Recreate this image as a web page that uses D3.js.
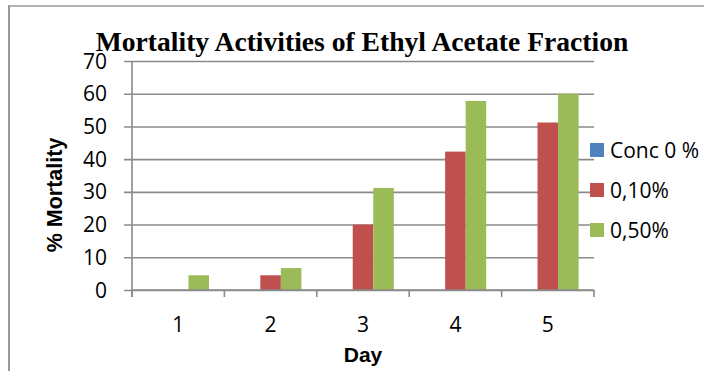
<!DOCTYPE html>
<html>
<head>
<meta charset="utf-8">
<script src="https://cdn.jsdelivr.net/npm/d3@7"></script>
<style>
  html, body { margin: 0; padding: 0; background: #fff; }
  svg { display: block; }
</style>
</head>
<body>
<svg id="chart" width="704" height="371"></svg>
<script>
// Mortality data per day and concentration
const days = ["1", "2", "3", "4", "5"];
const seriesNames = ["Conc 0 %", "0,10%", "0,50%"];
const conc0 = [0, 0, 0, 0, 0];
const conc010 = [0, 4.5, 20, 42.3, 51.2];
const conc050 = [4.5, 6.7, 31.2, 57.8, 60];
const yTicks = [0, 10, 20, 30, 40, 50, 60, 70];
const colors = ["#4F81BD", "#C0504D", "#9BBB59"];

const seriesValues = [conc0, conc010, conc050];

const svg = d3.select("#chart");
const gridColor = "#8a8a8a";
const tickFont = "'Open Sans', 'Liberation Sans', sans-serif";

// Outer frame (left and top edges)
svg.append("line").attr("x1", 9).attr("x2", 9).attr("y1", 5).attr("y2", 371)
  .attr("stroke", "#9a9a9a").attr("stroke-width", 2);
svg.append("line").attr("x1", 8).attr("x2", 704).attr("y1", 6).attr("y2", 6)
  .attr("stroke", "#9a9a9a").attr("stroke-width", 1.5);

const plot = { left: 132, right: 594, top: 61, bottom: 290 };

const x = d3.scaleBand().domain(days).range([plot.left, plot.right]).padding(0);
const y = d3.scaleLinear().domain([0, 70]).range([plot.bottom, plot.top]);

// Bars: gap width 150% of a bar, split on both sides
const barW = x.bandwidth() / (seriesNames.length + 1.5);
const xs = d3.scaleBand().domain(seriesNames)
  .range([0.75 * barW, 0.75 * barW + barW * seriesNames.length]).padding(0);

// Horizontal gridlines with outward tick marks
const gy = svg.append("g").attr("transform", `translate(${plot.right},0)`);
gy.call(d3.axisLeft(y).tickValues(yTicks).tickSize(plot.right - plot.left + 8).tickFormat(""));
gy.select(".domain").remove();
gy.selectAll(".tick line").attr("stroke", gridColor).attr("stroke-width", 1.6);

// Y tick labels
svg.append("g").selectAll("text").data(yTicks).join("text")
  .attr("x", 107).attr("y", d => y(d) + 7.5)
  .attr("text-anchor", "end")
  .attr("font-family", tickFont).attr("font-size", 21).attr("fill", "#000")
  .text(d => d);

// Vertical axis line
svg.append("line").attr("x1", plot.left).attr("x2", plot.left)
  .attr("y1", plot.top).attr("y2", plot.bottom + 7)
  .attr("stroke", gridColor).attr("stroke-width", 1.6);

// Bars
const groups = svg.append("g").selectAll("g").data(seriesNames).join("g")
  .attr("fill", (d, i) => colors[i]);
groups.selectAll("rect")
  .data((s, si) => days.map((d, di) => ({ day: d, series: s, value: seriesValues[si][di] })))
  .join("rect")
  .attr("x", d => x(d.day) + xs(d.series))
  .attr("width", xs.bandwidth())
  .attr("y", d => y(d.value))
  .attr("height", d => y(0) - y(d.value));

// X axis with tick marks at category boundaries
const xAxisG = svg.append("g");
xAxisG.append("line").attr("x1", plot.left).attr("x2", plot.right)
  .attr("y1", plot.bottom).attr("y2", plot.bottom)
  .attr("stroke", gridColor).attr("stroke-width", 1.6);
const bounds = days.map(d => x(d)).concat([plot.right]);
xAxisG.selectAll("line.tk").data(bounds).join("line").attr("class", "tk")
  .attr("x1", d => d).attr("x2", d => d)
  .attr("y1", plot.bottom).attr("y2", plot.bottom + 7)
  .attr("stroke", gridColor).attr("stroke-width", 1.6);
xAxisG.selectAll("text").data(days).join("text")
  .attr("x", d => x(d) + x.bandwidth() / 2).attr("y", 332)
  .attr("text-anchor", "middle")
  .attr("font-family", tickFont).attr("font-size", 21).attr("fill", "#000")
  .text(d => d);

// Axis titles
svg.append("text").attr("x", 363).attr("y", 362).attr("text-anchor", "middle")
  .attr("font-family", "'Liberation Sans', Arial, sans-serif").attr("font-weight", "bold")
  .attr("font-size", 21).attr("fill", "#000").text("Day");
svg.append("text").attr("transform", "translate(62,195) rotate(-90)")
  .attr("text-anchor", "middle")
  .attr("font-family", "'Liberation Sans', Arial, sans-serif").attr("font-weight", "bold")
  .attr("font-size", 21.5).attr("fill", "#000").text("% Mortality");

// Chart title
svg.append("text").attr("x", 362).attr("y", 50.5).attr("text-anchor", "middle")
  .attr("font-family", "'Liberation Serif', 'Times New Roman', serif").attr("font-weight", "bold")
  .attr("font-size", 27.6).attr("fill", "#000")
  .text("Mortality Activities of Ethyl Acetate Fraction");

// Legend
const legend = svg.append("g").selectAll("g").data(seriesNames).join("g")
  .attr("transform", (d, i) => `translate(590,${150 + i * 40})`);
legend.append("rect").attr("x", 0).attr("y", -7).attr("width", 14).attr("height", 14)
  .attr("fill", (d, i) => colors[i]);
legend.append("text").attr("x", 20).attr("y", 7.5)
  .attr("font-family", tickFont).attr("font-size", 21).attr("fill", "#000")
  .text(d => d);
</script>
</body>
</html>
